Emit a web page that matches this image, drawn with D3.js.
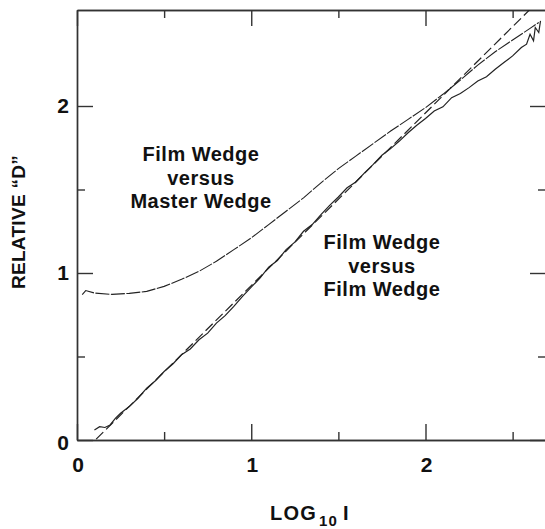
<!DOCTYPE html>
<html>
<head>
<meta charset="utf-8">
<script src="https://cdn.jsdelivr.net/npm/d3@7"></script>
<style>
  body { margin: 0; background: #fff; }
  svg { display: block; }
  text { font-family: "Liberation Sans", Arial, sans-serif; font-weight: bold; fill: #111; }
</style>
</head>
<body>
<svg id="chart" width="545" height="529"></svg>
<script>
// values
const xMajorTicks = [0, 1, 2];
const xMinorTicks = [0.5, 1.5, 2.5];
const yMajorTicks = [0, 1, 2];
const yMinorTicks = [0.5, 1.5];

// Film Wedge versus Master Wedge  [log10 I, relative D]
const masterLogI = [0.03, 0.05, 0.1, 0.2, 0.3, 0.4, 0.5, 0.6, 0.7, 0.8, 0.9, 1.0, 1.1, 1.2, 1.3, 1.4, 1.5, 1.6, 1.7, 1.8, 1.9, 2.0, 2.1, 2.2, 2.3, 2.4, 2.5, 2.6, 2.65];
const masterD    = [0.87, 0.895, 0.88, 0.872, 0.878, 0.89, 0.92, 0.962, 1.01, 1.07, 1.14, 1.21, 1.29, 1.37, 1.45, 1.54, 1.625, 1.70, 1.775, 1.85, 1.92, 1.99, 2.07, 2.155, 2.245, 2.325, 2.395, 2.465, 2.50];

// Film Wedge versus Film Wedge (noisy trace)
const filmLogI = [0.10, 0.13, 0.16, 0.19, 0.22, 0.25, 0.30, 0.35, 0.40, 0.45, 0.50, 0.55, 0.60, 0.65, 0.70, 0.75, 0.80, 0.85, 0.90, 0.95, 1.00, 1.05, 1.10, 1.15, 1.20, 1.25, 1.30, 1.35, 1.40, 1.45, 1.50, 1.55, 1.60, 1.65, 1.70, 1.75, 1.80, 1.85, 1.90, 1.95, 2.00, 2.05, 2.10, 2.15, 2.20, 2.25, 2.30, 2.35, 2.40, 2.45, 2.50, 2.55, 2.58, 2.60, 2.62, 2.63, 2.65, 2.66];
const filmD    = [0.06, 0.08, 0.075, 0.09, 0.13, 0.16, 0.20, 0.25, 0.31, 0.355, 0.41, 0.455, 0.51, 0.545, 0.60, 0.64, 0.70, 0.745, 0.80, 0.86, 0.915, 0.97, 1.035, 1.075, 1.14, 1.185, 1.25, 1.29, 1.35, 1.405, 1.455, 1.51, 1.545, 1.60, 1.65, 1.705, 1.745, 1.79, 1.84, 1.885, 1.925, 1.97, 1.995, 2.05, 2.075, 2.11, 2.15, 2.175, 2.22, 2.26, 2.30, 2.35, 2.37, 2.43, 2.39, 2.47, 2.44, 2.51];

// straight reference line (dashed)
const refLogI = [0.11, 2.64];
const refD    = [0.005, 2.62];

const svg = d3.select("#chart");
const plotLeft = 77, plotRight = 546, plotTop = 10, plotBottom = 440;

const x = d3.scaleLinear().domain([0, (plotRight - plotLeft) / 174.25]).range([plotLeft, plotRight]);
const y = d3.scaleLinear().domain([0, (plotBottom - plotTop) / 167]).range([plotBottom, plotTop]);

const plot = svg.append("g");
plot.append("clipPath").attr("id", "clip")
  .append("rect").attr("x", plotLeft).attr("y", plotTop)
  .attr("width", plotRight - plotLeft).attr("height", plotBottom - plotTop);

// frame + inward ticks, major ticks long, minor ticks short
function addAxis(axisFn, scale, ticks, size, transform) {
  const g = plot.append("g")
    .attr("transform", transform)
    .call(axisFn(scale).tickValues(ticks).tickSize(-size).tickSizeOuter(0).tickFormat(""));
  g.selectAll("path, line").attr("stroke", "#333").attr("stroke-width", 1.4);
  return g;
}
addAxis(d3.axisBottom, x, xMajorTicks, 16, `translate(0,${plotBottom})`);
addAxis(d3.axisBottom, x, xMinorTicks, 8, `translate(0,${plotBottom})`);
addAxis(d3.axisTop, x, xMajorTicks, 16, `translate(0,${plotTop})`);
addAxis(d3.axisTop, x, xMinorTicks, 8, `translate(0,${plotTop})`);
addAxis(d3.axisLeft, y, yMajorTicks, 16, `translate(${plotLeft},0)`);
addAxis(d3.axisLeft, y, yMinorTicks, 8, `translate(${plotLeft},0)`);
addAxis(d3.axisRight, y, yMajorTicks, 16, `translate(${plotRight},0)`);
addAxis(d3.axisRight, y, yMinorTicks, 8, `translate(${plotRight},0)`);

// tick labels
svg.append("g").selectAll("text").data(xMajorTicks).join("text")
  .attr("x", d => x(d) + 1).attr("y", 472)
  .attr("text-anchor", "middle").style("font-size", "21px")
  .text(d => d);
svg.append("g").selectAll("text").data(yMajorTicks).join("text")
  .attr("x", 69).attr("y", d => y(d) + 7 + (d === 0 ? 3 : 0))
  .attr("text-anchor", "end").style("font-size", "21px")
  .text(d => d);

// curves
const line = d3.line().x(d => x(d[0])).y(d => y(d[1])).curve(d3.curveLinear);
const lines = plot.append("g").attr("clip-path", "url(#clip)").attr("fill", "none");

lines.append("path")
  .datum(masterLogI.map((v, i) => [v, masterD[i]]))
  .attr("d", line).attr("stroke", "#222").attr("stroke-width", 1.1)
  .attr("stroke-dasharray", "14,1.5");

lines.append("path")
  .datum(filmLogI.map((v, i) => [v, filmD[i]]))
  .attr("d", line).attr("stroke", "#222").attr("stroke-width", 1.2);

lines.append("path")
  .datum(refLogI.map((v, i) => [v, refD[i]]))
  .attr("d", line).attr("stroke", "#222").attr("stroke-width", 1.2)
  .attr("stroke-dasharray", "10,4");

// curve labels
const notes = [
  { lines: ["Film Wedge", "versus", "Master Wedge"], cx: 201, y0: 161 },
  { lines: ["Film Wedge", "versus", "Film Wedge"], cx: 382, y0: 249 }
];
notes.forEach(n => {
  svg.append("g").selectAll("text").data(n.lines).join("text")
    .attr("x", n.cx).attr("y", (d, i) => n.y0 + i * 23.5)
    .attr("text-anchor", "middle").style("font-size", "20px")
    .style("letter-spacing", "0.5px")
    .text(d => d);
});

// axis titles
svg.append("text")
  .attr("transform", "translate(25,222) rotate(-90)")
  .attr("text-anchor", "middle").style("font-size", "19px")
  .style("letter-spacing", "0.3px")
  .text("RELATIVE \u201CD\u201D");

const xt = svg.append("text").attr("x", 270).attr("y", 520).style("font-size", "20px")
  .style("letter-spacing", "1.2px");
xt.append("tspan").text("LOG");
xt.append("tspan").attr("dy", 6).attr("dx", 2).style("font-size", "15px").text("10");
xt.append("tspan").attr("dy", -6).attr("dx", 5).text("I");
</script>
</body>
</html>
